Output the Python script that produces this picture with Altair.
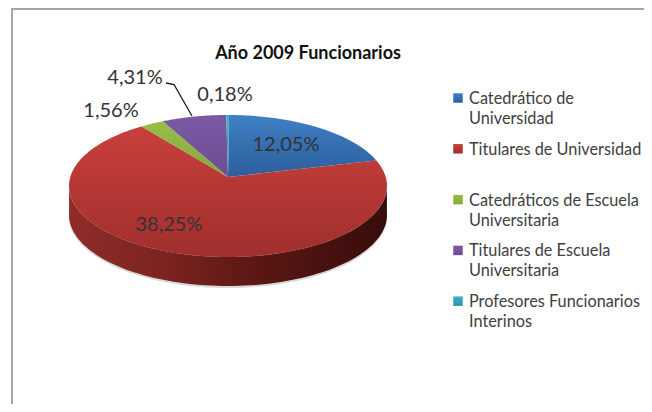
import math
import altair as alt

categories = ["Catedrático de Universidad", "Titulares de Universidad",
              "Catedráticos de Escuela Universitaria",
              "Titulares de Escuela Universitaria",
              "Profesores Funcionarios Interinos"]
values = [12.05, 38.25, 1.56, 4.31, 0.18]
labels = ["12,05%", "38,25%", "1,56%", "4,31%", "0,18%"]
legend_lines = [["Catedrático de", "Universidad"], ["Titulares de Universidad"],
                ["Catedráticos de Escuela", "Universitaria"],
                ["Titulares de Escuela", "Universitaria"],
                ["Profesores Funcionarios", "Interinos"]]
title_text = "Año 2009 Funcionarios"
top_colors = [("#3f7fc4", "#2c5f9c"), ("#c8403b", "#a02f2d"), ("#98bd48", "#83a83a"),
              ("#7a5aa3", "#6c4c92"), ("#3cabc8", "#2f95b0")]
side_stops = [("#8f2c29", 0), ("#7c2421", 0.3), ("#5a1714", 0.6), ("#360d0b", 1)]
label_pos = [(286, 145), (169, 225), (111, 111), (135, 78), (225, 95)]

W, H = 636, 396
CX, CY, RX, RY, AX, AY, DEPTH = 228, 186, 159, 71, 228, 177, 29
START = 0.4


def warp(t):
    return t - 8.6 * math.sin(math.radians(t))


def edge(t, dy=0):
    r = math.radians(t)
    return [CX + RX * math.sin(r), CY - RY * math.cos(r) + dy]


def poly(coords):
    return {"type": "Feature", "properties": {},
            "geometry": {"type": "Polygon", "coordinates": [coords]}}


def shape(feature, fill):
    return alt.Chart(alt.Data(values=[feature])).mark_geoshape(
        fill=fill, strokeWidth=0).project(type="identity", scale=1, translate=[-8, -8])


xs = alt.Scale(domain=[8, 8 + W], range=[0, W])
ys = alt.Scale(domain=[8, 8 + H], range=[0, H])

layers = []

# soft shadow below the pie
shadow = [edge(t, DEPTH + 2) for t in range(85, 276, 3)]
layers.append(shape(poly(shadow + [shadow[0]]), "#d9d9d9"))

# side wall
front = [edge(t) for t in range(88, 273, 2)]
back = [edge(t, DEPTH) for t in range(272, 87, -2)]
layers.append(shape(poly(front + back + [front[0]]), alt.Gradient(
    gradient="linear", x1=0, x2=1, y1=0, y2=0,
    stops=[alt.GradientStop(color=c, offset=o) for c, o in side_stops])))

# top face wedges
total = sum(values)
cum = START
for v, (c1, c2) in zip(values, top_colors):
    a0 = cum
    a1 = cum + 360 * v / total
    cum = a1
    n = max(2, int(a1 - a0))
    arc = [edge(warp(a0 + (a1 - a0) * i / n)) for i in range(n + 1)]
    layers.append(shape(poly([[AX, AY]] + arc + [[AX, AY]]), alt.Gradient(
        gradient="linear", x1=0, x2=0, y1=0, y2=1,
        stops=[alt.GradientStop(color=c1, offset=0), alt.GradientStop(color=c2, offset=1)])))

# frame
frame = [{"x": 12, "y": 8 + H, "o": 0}, {"x": 12, "y": 9, "o": 1}, {"x": 8 + W, "y": 9, "o": 2}]
layers.append(alt.Chart(alt.Data(values=frame)).mark_line(color="#a6a6a6", strokeWidth=2).encode(
    x=alt.X("x:Q", scale=xs, axis=None), y=alt.Y("y:Q", scale=ys, axis=None), order="o:Q"))

# leader line of the 4,31% label
leader = [{"x": 166, "y": 83, "o": 0}, {"x": 174, "y": 84.5, "o": 1}, {"x": 192, "y": 116, "o": 2}]
layers.append(alt.Chart(alt.Data(values=leader)).mark_line(color="#1a1a1a", strokeWidth=1.3).encode(
    x=alt.X("x:Q", scale=xs, axis=None), y=alt.Y("y:Q", scale=ys, axis=None), order="o:Q"))

# data labels
lab = [{"x": p[0], "y": p[1], "t": t} for p, t in zip(label_pos, labels)]
layers.append(alt.Chart(alt.Data(values=lab)).mark_text(
    font="Lato", fontSize=20, color="#333333", align="center", baseline="middle").encode(
    x=alt.X("x:Q", scale=xs, axis=None), y=alt.Y("y:Q", scale=ys, axis=None), text="t:N"))

# title
layers.append(alt.Chart(alt.Data(values=[{"x": 308, "y": 54, "t": title_text}])).mark_text(
    font="Lato", fontSize=18, fontWeight="bold", color="#111111", align="center", baseline="middle").encode(
    x=alt.X("x:Q", scale=xs, axis=None), y=alt.Y("y:Q", scale=ys, axis=None), text="t:N"))

# legend
rows = []
for i, (lines, (c1, c2)) in enumerate(zip(legend_lines, top_colors)):
    y0 = 99 + 50.8 * i
    for j, ln in enumerate(lines):
        rows.append({"x": 469, "y": y0 + 20 * j, "t": ln})
    layers.append(alt.Chart(alt.Data(values=[{"x": 458, "y": y0 - 1}])).mark_square(
        size=90, opacity=1, fill=alt.Gradient(
            gradient="linear", x1=0, x2=0, y1=0, y2=1,
            stops=[alt.GradientStop(color=c1, offset=0), alt.GradientStop(color=c2, offset=1)])).encode(
        x=alt.X("x:Q", scale=xs, axis=None), y=alt.Y("y:Q", scale=ys, axis=None)))
layers.append(alt.Chart(alt.Data(values=rows)).mark_text(
    font="Lato", fontSize=16.3, color="#404040", align="left", baseline="middle").encode(
    x=alt.X("x:Q", scale=xs, axis=None), y=alt.Y("y:Q", scale=ys, axis=None), text="t:N"))

chart = alt.layer(*layers).properties(
    width=W, height=H, padding=0, autosize=alt.AutoSizeParams(type="none"),
    background="white"
).configure_view(stroke=None)

chart.save("out.html", embed_options={"renderer": "svg", "actions": False})
